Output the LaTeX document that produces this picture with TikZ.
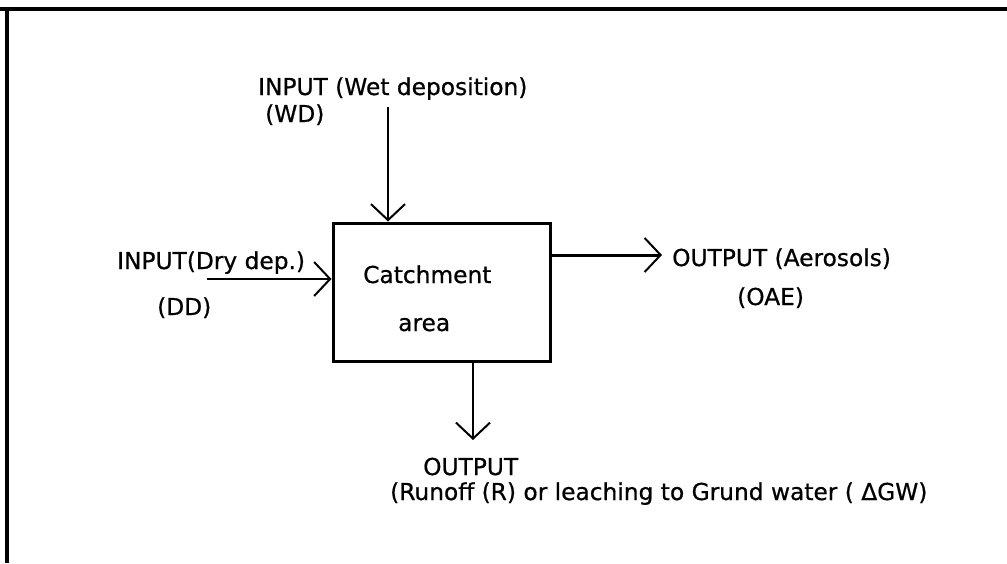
\documentclass[tikz,border=0pt]{standalone}
\usepackage{fontspec}
\setmainfont{DejaVu Sans}
\newfontfamily\tagfont{DejaVu Sans}[FakeBold=0.7]
\usetikzlibrary{arrows.meta}
\tikzset{
  flow/.style={line width=2pt, -{Straight Barb[length=16pt,width=34pt,line width=2pt]}},
  tag/.style={anchor=base west, inner sep=0pt, font=\tagfont\fontsize{23.3}{28}\selectfont},
}
\begin{document}
\begin{tikzpicture}[x=1pt,y=-1pt]
  \useasboundingbox (0,0) rectangle (1007,563);

  % Frame: only top and left edges show
  \coordinate (corner) at (7,9);
  \draw[line width=4pt] (0,9) -- (1007,9);
  \draw[line width=4pt] (corner) -- (7,563);

  % Catchment box
  \node[draw, line width=3pt, minimum width=217pt, minimum height=138pt, inner sep=0pt] (box) at (441.5,292) {};
  \node[tag] (catch) at (363,283) {Catchment};
  \node[tag] (area) at (398,331) {area};

  % Free ends of the flows
  \coordinate (wdin) at (388,107);
  \coordinate (ddin) at (207,279);
  \coordinate (oaeout) at (662,255);
  \coordinate (rout) at (473,440);

  % Flows
  \draw[flow] (wdin) -- (wdin |- box.north);
  \draw[flow] (ddin) -- (ddin -| box.west);
  \draw[flow, line width=3pt] (oaeout -| box.east) -- (oaeout);
  \draw[flow] (rout |- box.south) -- (rout);

  % Labels
  \node[tag] (wdlbl) at (258,95) {INPUT (Wet deposition)};
  \node[tag] (wdabbr) at (265,122) {(WD)};
  \node[tag] (ddlbl) at (117,269) {INPUT(Dry dep.)};
  \node[tag] (ddabbr) at (157,315) {(DD)};
  \node[tag] (oaelbl) at (672,266) {OUTPUT (Aerosols)};
  \node[tag] (oaeabbr) at (737,305) {(OAE)};
  \node[tag] (routlbl) at (423,475) {OUTPUT};
  \node[tag] (routtext) at (390,500) {(Runoff (R) or leaching to Grund water ( ΔGW)};
\end{tikzpicture}
\end{document}
